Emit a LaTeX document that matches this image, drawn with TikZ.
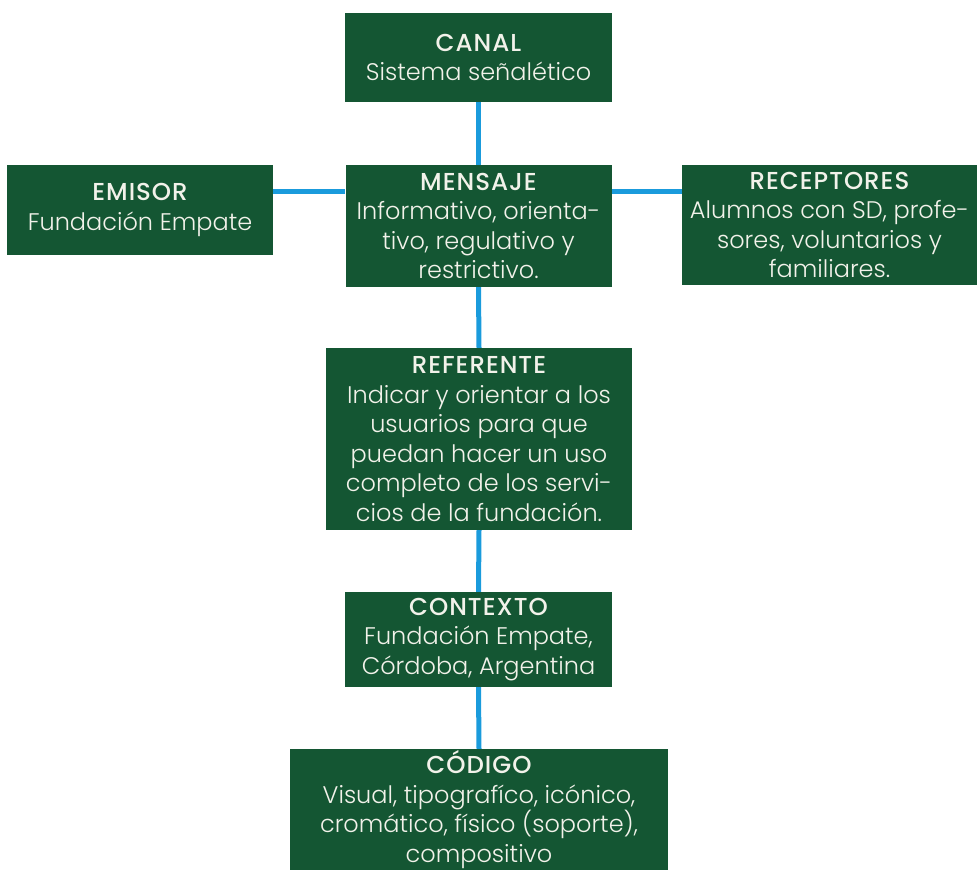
\documentclass[tikz,border=0pt]{standalone}
\usepackage{fontspec}
\setmainfont{Poppins}[UprightFont={* Light}, BoldFont={* Medium}]
\newfontfamily\titlefont{Poppins}[UprightFont={* Medium}, LetterSpace=4]
\newcommand{\ttl}[1]{{\titlefont\fontsize{24.5}{29.5}\selectfont #1}}
\definecolor{boxgreen}{HTML}{145633}
\definecolor{linkblue}{HTML}{1A9BDC}
\definecolor{boxtext}{HTML}{F2F2EA}
\begin{document}
\begin{tikzpicture}[x=1pt,y=-1pt,
  box/.style={fill=boxgreen, draw=none, text=boxtext, inner sep=0pt, align=center,
    font=\fontsize{24}{29.5}\selectfont},
  link/.style={draw=linkblue, line width=5pt}]
\useasboundingbox (0,0) rectangle (977,870);
\coordinate (hline) at (0,191);
\node[box, minimum width=267, minimum height=89] (canal) at (478.5,57.5)
  {\ttl{CANAL}\\Sistema señalético};
\node[box, minimum width=266, minimum height=90] (emisor) at (140,210)
  {\ttl{EMISOR}\\Fundación Empate};
\node[box, minimum width=266, minimum height=122] (mensaje) at (478.5,226)
  {\ttl{MENSAJE}\\Informativo, orienta-\\tivo, regulativo y\\restrictivo.};
\node[box, minimum width=295, minimum height=120] (receptores) at (829.5,225)
  {\ttl{RECEPTORES}\\Alumnos con SD, profe-\\sores, voluntarios y\\familiares.};
\node[box, minimum width=306, minimum height=182] (referente) at (479,439)
  {\ttl{REFERENTE}\\Indicar y orientar a los\\usuarios para que\\puedan hacer un uso\\completo de los servi-\\cios de la fundación.};
\node[box, minimum width=267, minimum height=95] (contexto) at (478.5,639.5)
  {\ttl{CONTEXTO}\\Fundación Empate,\\Córdoba, Argentina};
\node[box, minimum width=378, minimum height=121] (codigo) at (479,809.5)
  {\ttl{CÓDIGO}\\Visual, tipografíco, icónico,\\cromático, físico (soporte),\\compositivo};
\draw[link] (canal.south) -- (mensaje.north);
\draw[link] (emisor.east |- hline) -- (mensaje.west |- hline);
\draw[link] (mensaje.east |- hline) -- (receptores.west |- hline);
\draw[link] (mensaje.south) -- (referente.north);
\draw[link] (referente.south) -- (contexto.north);
\draw[link] (contexto.south) -- (codigo.north);
\end{tikzpicture}
\end{document}
